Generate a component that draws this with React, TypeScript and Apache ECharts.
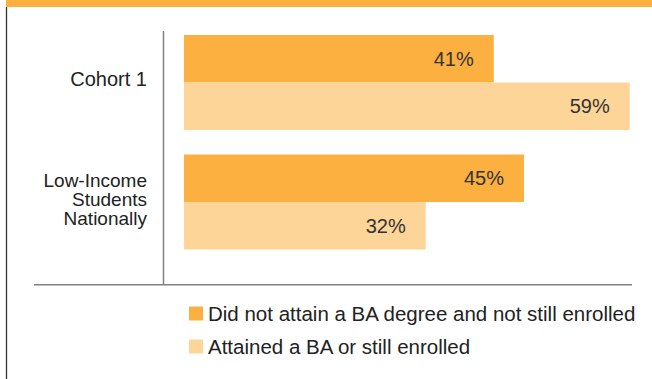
import React, { useEffect, useRef } from "react";
import * as echarts from "echarts";

const categories = ["Cohort 1", "Low-Income\nStudents\nNationally"];
const notAttained = [41, 45];
const attained = [59, 32];
const seriesNames = [
  "Did not attain a BA degree and not still enrolled",
  "Attained a BA or still enrolled",
];

const FONT = "'Liberation Sans', Arial, sans-serif";

export default function App() {
  const ref = useRef<HTMLDivElement>(null);
  useEffect(() => {
    if (!ref.current) return;
    const chart = echarts.init(ref.current, undefined, { renderer: "svg" });
    const labelStyle = {
      show: true,
      position: "insideRight",
      distance: 20,
      formatter: "{c}%",
      color: "#333",
      fontSize: 20,
      fontFamily: FONT,
    };
    chart.setOption({
      animation: false,
      backgroundColor: "#fff",
      grid: { left: 184, top: 22.75, height: 239, width: 453.3 },
      xAxis: { type: "value", min: 0, max: 60, show: false },
      yAxis: {
        type: "category",
        data: categories,
        inverse: true,
        axisLine: { show: false },
        axisTick: { show: false },
        axisLabel: {
          margin: 37,
          color: "#222",
          fontSize: 20,
          fontFamily: FONT,
          formatter: (v: string) => (v.indexOf("\n") >= 0 ? `{m|${v}}` : `{s|${v}}`),
          rich: {
            s: { fontSize: 20, lineHeight: 20, fontFamily: FONT, color: "#222", padding: [0, 0, 8, 0] },
            m: { fontSize: 19, lineHeight: 19, fontFamily: FONT, color: "#222", padding: [0, 0, 6, 0], align: "right" },
          },
        },
      },
      legend: {
        orient: "vertical",
        left: 184,
        top: 298,
        itemWidth: 14,
        itemHeight: 14,
        itemGap: 12,
        icon: "rect",
        selectedMode: false,
        textStyle: { color: "#222", fontSize: 20.5, fontFamily: FONT, padding: 0 },
        data: seriesNames,
      },
      series: [
        {
          name: seriesNames[0],
          type: "bar",
          data: notAttained,
          barGap: "0%",
          barCategoryGap: "20.5%",
          itemStyle: { color: "#FBB040" },
          label: labelStyle,
        },
        {
          name: seriesNames[1],
          type: "bar",
          data: attained,
          barGap: "0%",
          barCategoryGap: "20.5%",
          itemStyle: { color: "#FDD599" },
          label: labelStyle,
        },
      ],
      graphic: [
        { type: "rect", shape: { x: 6, y: 0, width: 646, height: 7 }, style: { fill: "#FBB040" } },
        { type: "line", shape: { x1: 6.5, y1: 7, x2: 6.5, y2: 379 }, style: { stroke: "#333", lineWidth: 1.3 } },
        { type: "line", shape: { x1: 163.5, y1: 31, x2: 163.5, y2: 285 }, style: { stroke: "#808080", lineWidth: 1.5 } },
        { type: "line", shape: { x1: 34, y1: 284.7, x2: 632, y2: 284.7 }, style: { stroke: "#808080", lineWidth: 1.5 } },
      ],
    });
    return () => chart.dispose();
  }, []);
  return (
    <div
      ref={ref}
      style={{ position: "fixed", left: 0, top: 0, width: 652, height: 379 }}
    />
  );
}
